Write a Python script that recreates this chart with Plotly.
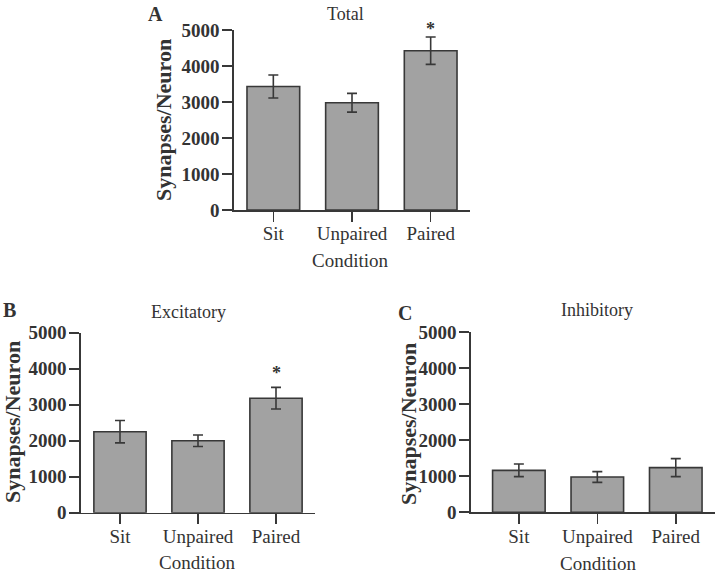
import plotly.graph_objects as go

W, H = 718, 573

categories = ["Sit", "Unpaired", "Paired"]
total_vals = [3430, 2980, 4425]
total_err = [320, 260, 380]
excit_vals = [2250, 2000, 3180]
excit_err = [310, 160, 300]
inhib_vals = [1165, 980, 1240]
inhib_err = [175, 150, 250]
y_ticks = [0, 1000, 2000, 3000, 4000, 5000]
panel_titles = ["Total", "Excitatory", "Inhibitory"]
panel_letters = ["A", "B", "C"]
x_title = "Condition"
y_title = "Synapses/Neuron"
# significance star placed on Paired bar (panels A and B)
star_y = [5140, 3990]

FONT = "Liberation Serif"
TXT = "#333333"
BAR = "#a2a2a2"
LINE = "#383838"
YMAX = 5000
PLOT_H = 180  # pixel height of each plot area


def px(x):
    return x / W


def py(y):
    return 1 - y / H


fig = go.Figure()

series = [(total_vals, total_err), (excit_vals, excit_err), (inhib_vals, inhib_err)]
for i, (vals, err) in enumerate(series):
    sfx = "" if i == 0 else str(i + 1)
    fig.add_trace(go.Bar(
        x=categories, y=vals,
        marker=dict(color=BAR, line=dict(color=LINE, width=1.6)),
        width=0.67,
        error_y=dict(type="data", array=err, visible=True, color=LINE, thickness=1.6, width=5),
        xaxis="x" + sfx, yaxis="y" + sfx, showlegend=False,
    ))

# axis domains (pixels)
doms = [
    dict(x=(234, 470), y=(210, 30), xr=[-0.5, 2.5]),
    dict(x=(81, 315), y=(512.7, 332.7), xr=[-0.5, 2.5]),
    dict(x=(471, 715), y=(512.3, 332.3), xr=[-0.61, 2.5]),
]

layout = dict(
    width=W, height=H,
    margin=dict(l=0, r=0, t=0, b=0, autoexpand=False),
    paper_bgcolor="white", plot_bgcolor="white",
    font=dict(family=FONT, color=TXT),
    showlegend=False,
)
for i, d in enumerate(doms):
    sfx = "" if i == 0 else str(i + 1)
    layout["xaxis" + sfx] = dict(
        domain=[px(d["x"][0]), px(d["x"][1])],
        anchor="y" + sfx, range=d["xr"], automargin=False,
        showline=True, linecolor=LINE, linewidth=1.6,
        ticks="outside", ticklen=10, tickwidth=1.6, tickcolor=LINE,
        ticklabelstandoff=-4,
        tickfont=dict(family=FONT, size=19, color=TXT),
        showgrid=False, zeroline=False, fixedrange=True,
    )
    layout["yaxis" + sfx] = dict(
        domain=[py(d["y"][0]), py(d["y"][1])],
        anchor="x" + sfx, range=[0, YMAX], automargin=False,
        tickvals=y_ticks, ticktext=[str(t) for t in y_ticks],
        showline=True, linecolor=LINE, linewidth=1.6,
        ticks="outside", ticklen=10, tickwidth=1.6, tickcolor=LINE,
        ticklabelstandoff=-1,
        tickfont=dict(family=FONT, size=19, color=TXT, weight="bold"),
        showgrid=False, zeroline=False, fixedrange=True,
    )
fig.update_layout(**layout)

ann = []
title_pos = [(345, 14), (188, 312), (597, 310)]
letter_pos = [(155, 14), (9, 310), (405, 313)]
ytitle_pos = [(163, 120), (12, 422), (408, 424)]
xtitle_pos = [(350, 260), (197, 562), (598, 563)]
for i in range(3):
    ann.append(dict(x=px(title_pos[i][0]), y=py(title_pos[i][1]), xref="paper", yref="paper",
                    text=panel_titles[i], showarrow=False, xanchor="center", yanchor="middle",
                    font=dict(family=FONT, size=18, color=TXT)))
    ann.append(dict(x=px(letter_pos[i][0]), y=py(letter_pos[i][1]), xref="paper", yref="paper",
                    text=panel_letters[i], showarrow=False, xanchor="center", yanchor="middle",
                    font=dict(family=FONT, size=20, color=TXT, weight="bold")))
    ann.append(dict(x=px(ytitle_pos[i][0]), y=py(ytitle_pos[i][1]), xref="paper", yref="paper",
                    text=y_title, showarrow=False, textangle=-90, xanchor="center", yanchor="middle",
                    font=dict(family=FONT, size=22, color=TXT, weight="bold")))
    ann.append(dict(x=px(xtitle_pos[i][0]), y=py(xtitle_pos[i][1]), xref="paper", yref="paper",
                    text=x_title, showarrow=False, xanchor="center", yanchor="middle",
                    font=dict(family=FONT, size=19, color=TXT)))
# stars (anchor clamped into axis range, remainder applied as pixel shift)
for i, sy in enumerate(star_y):
    sfx = "" if i == 0 else str(i + 1)
    anchor = min(sy, YMAX)
    shift = (sy - anchor) * PLOT_H / YMAX
    ann.append(dict(x="Paired", y=anchor, xref="x" + sfx, yref="y" + sfx, text="*",
                    showarrow=False, xanchor="center", yanchor="middle", yshift=shift - 4,
                    font=dict(family=FONT, size=18, color=TXT, weight="bold")))
fig.update_layout(annotations=ann)

fig.write_html(
    "out.html",
    config={"displayModeBar": False, "staticPlot": True},
    post_script="document.body.style.margin='0';document.body.style.padding='0';",
)
